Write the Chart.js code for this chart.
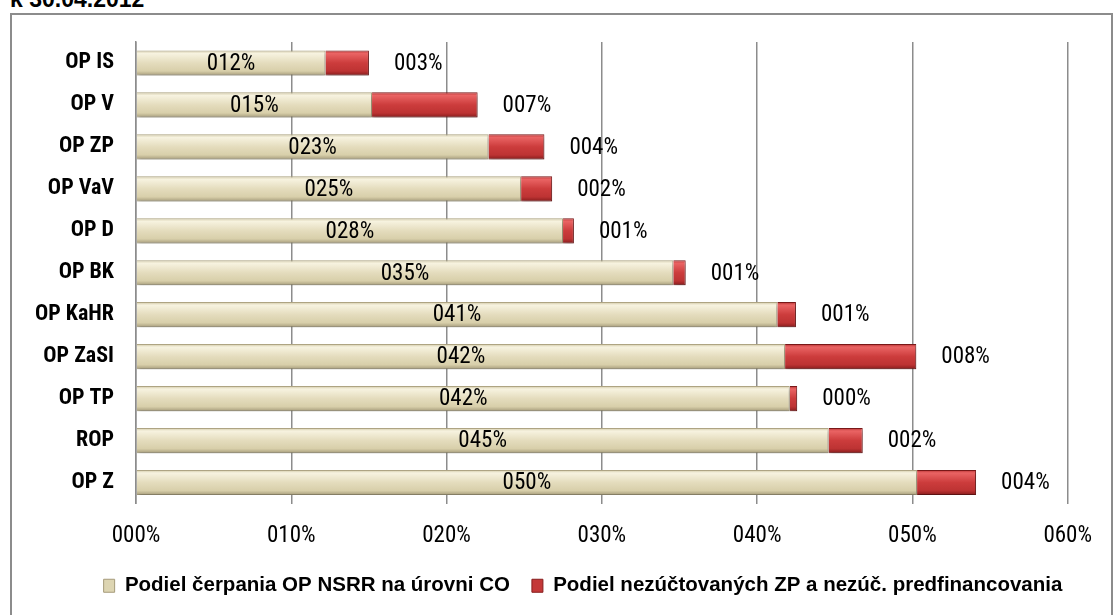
<!DOCTYPE html>
<html lang="sk">
  <head>
    <meta charset="UTF-8" />
    <title>Podiel čerpania OP NSRR k 30.04.2012</title>
    <style>
      body {
        margin: 0;
        padding: 0;
        width: 1115px;
        height: 615px;
        overflow: hidden;
        background: #ffffff;
        position: relative;
        font-family: "Liberation Sans", Arial, sans-serif;
      }
      .title {
        position: absolute;
        left: 10px;
        top: -14px;
        font-weight: bold;
        font-size: 23px;
        line-height: 26px;
        color: #000;
      }
      .frame {
        position: absolute;
        left: 10px;
        top: 13px;
        width: 1099px;
        height: 620px;
        border: 2px solid #8c8c8c;
      }
      .frame canvas {
        position: absolute;
        left: 0;
        top: 0;
      }
    </style>
  </head>
  <body>
    <div class="title">k 30.04.2012</div>
    <div class="frame">
      <canvas id="myChart" width="1099" height="600"></canvas>
    </div>
    <script src="https://cdn.jsdelivr.net/npm/chart.js@4.4.1/dist/chart.umd.min.js"></script>
    <script>
      // data (percent)
      const categories = ["OP IS", "OP V", "OP ZP", "OP VaV", "OP D", "OP BK", "OP KaHR", "OP ZaSI", "OP TP", "ROP", "OP Z"];
      const drawnShare = [12.2, 15.2, 22.7, 24.8, 27.5, 34.6, 41.3, 41.8, 42.1, 44.6, 50.3];
      const pendingShare = [2.8, 6.8, 3.6, 2.0, 0.7, 0.8, 1.2, 8.45, 0.48, 2.2, 3.8];
      const xTicks = [0, 10, 20, 30, 40, 50, 60];
      const seriesNames = ["Podiel čerpania OP NSRR na úrovni CO", "Podiel nezúčtovaných ZP a nezúč. predfinancovania"];

      // Roboto is variable, "condensed" gives an Arial Narrow look
      const NARROW = "Roboto, 'DejaVu Sans Condensed', sans-serif";
      const BAR_PCT = 0.6;

      const fmtPct = (v) => String(Math.round(v)).padStart(3, "0") + "%";

      const beigeStops = [[0, "#cfc6a3"], [0.12, "#f7f3e0"], [0.5, "#e4dcbd"], [0.82, "#d8cfaa"], [1, "#a59b7a"]];
      const redStops = [[0, "#b73232"], [0.12, "#ea6464"], [0.5, "#cc3c3c"], [0.82, "#bd3333"], [1, "#861c1c"]];

      function barGradient(stops) {
        return function (ctx) {
          const chart = ctx.chart;
          const y = chart.scales.y;
          if (!chart.chartArea || !y || ctx.dataIndex === undefined) return stops[2][1];
          const center = y.getPixelForValue(ctx.dataIndex);
          const half = (y.height / categories.length) * BAR_PCT / 2;
          const g = chart.ctx.createLinearGradient(0, center - half, 0, center + half);
          stops.forEach((s) => g.addColorStop(s[0], s[1]));
          return g;
        };
      }

      // soft drop shadow under the bars
      const barShadow = {
        id: "barShadow",
        beforeDatasetDraw(chart) {
          const c = chart.ctx;
          c.save();
          c.shadowColor = "rgba(0,0,0,0.28)";
          c.shadowBlur = 4;
          c.shadowOffsetX = 1;
          c.shadowOffsetY = 3;
        },
        afterDatasetDraw(chart) {
          chart.ctx.restore();
        },
      };

      // legend in the original sits a bit right of the canvas centre
      const legendShift = {
        id: "legendShift",
        afterLayout(chart) {
          chart.legend.left += 39;
          chart.legend.right += 39;
        },
      };

      const dataLabels = {
        id: "dataLabels",
        afterDatasetsDraw(chart) {
          const c = chart.ctx;
          c.save();
          c.font = "condensed 23px " + NARROW;
          c.fillStyle = "#000";
          c.textBaseline = "middle";
          chart.getDatasetMeta(0).data.forEach((bar, i) => {
            c.textAlign = "center";
            c.fillText(fmtPct(drawnShare[i]), (bar.base + bar.x) / 2, bar.y + 1);
          });
          chart.getDatasetMeta(1).data.forEach((bar, i) => {
            c.textAlign = "left";
            c.fillText(fmtPct(pendingShare[i]), bar.x + 25, bar.y + 1);
          });
          c.restore();
        },
      };

      const legendFill = ["#ddd5b2", "#c43838"];
      const legendStroke = ["#a59b7a", "#861c1c"];

      const config = {
        type: "bar",
        data: {
          labels: categories,
          datasets: [
            {
              label: seriesNames[0],
              data: drawnShare,
              backgroundColor: barGradient(beigeStops),
              borderColor: "#b0a684",
              borderWidth: 1,
              barPercentage: BAR_PCT,
              categoryPercentage: 1,
            },
            {
              label: seriesNames[1],
              data: pendingShare,
              backgroundColor: barGradient(redStops),
              borderColor: "#7a1818",
              borderWidth: 1,
              barPercentage: BAR_PCT,
              categoryPercentage: 1,
            },
          ],
        },
        options: {
          indexAxis: "y",
          responsive: false,
          animation: false,
          layout: { autoPadding: false, padding: { top: 27, right: 35, left: 0, bottom: 9 } },
          scales: {
            x: {
              stacked: true,
              min: 0,
              max: 60,
              afterBuildTicks: (scale) => {
                scale.ticks = xTicks.map((v) => ({ value: v }));
              },
              afterFit: (scale) => {
                scale.height = 50;
              },
              grid: { color: "#8c8c8c", lineWidth: 1.5, drawTicks: false },
              border: { display: false },
              ticks: {
                padding: 19,
                color: "#000",
                font: { family: NARROW, size: 23, weight: "condensed" },
                callback: (v) => fmtPct(v),
              },
            },
            y: {
              stacked: true,
              afterFit: (scale) => {
                scale.width = 124;
                scale.paddingTop = 0;
                scale.paddingBottom = 0;
              },
              grid: { display: false, drawTicks: false },
              border: { display: true, color: "#8c8c8c", width: 1.5 },
              ticks: {
                padding: 22,
                color: "#000",
                font: { family: NARROW, size: 22, weight: "bold condensed" },
              },
            },
          },
          plugins: {
            tooltip: { enabled: false },
            legend: {
              position: "bottom",
              labels: {
                color: "#000",
                boxWidth: 11,
                boxHeight: 13,
                padding: 22,
                font: { family: "'Liberation Sans', Arial, sans-serif", size: 20.5, weight: "bold" },
                generateLabels: (chart) => {
                  const items = Chart.defaults.plugins.legend.labels.generateLabels(chart);
                  items.forEach((it, i) => {
                    it.fillStyle = legendFill[i];
                    it.strokeStyle = legendStroke[i];
                    it.lineWidth = 1;
                  });
                  return items;
                },
              },
            },
          },
        },
        plugins: [barShadow, legendShift, dataLabels],
      };

      const ctx = document.getElementById("myChart").getContext("2d");
      const myChart = new Chart(ctx, config);
    </script>
  </body>
</html>
